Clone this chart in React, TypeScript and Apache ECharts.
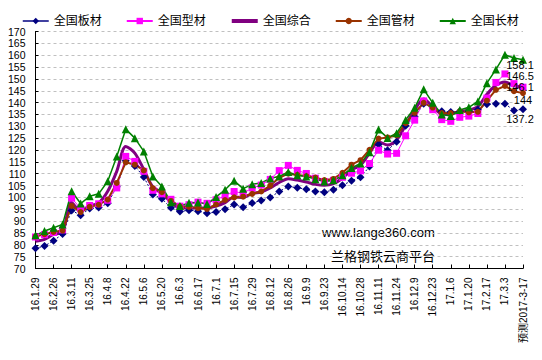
import React, { useEffect, useRef } from "react";
import * as echarts from "echarts";

const categories = [
  "16.1.29", "16.2.19", "16.2.26", "16.3.4", "16.3.11", "16.3.18", "16.3.25", "16.4.1", "16.4.8", "16.4.15",
  "16.4.22", "16.4.29", "16.5.6", "16.5.13", "16.5.20", "16.5.27", "16.6.3", "16.6.10", "16.6.17", "16.6.24",
  "16.7.1", "16.7.8", "16.7.15", "16.7.22", "16.7.29", "16.8.5", "16.8.12", "16.8.19", "16.8.26", "16.9.2",
  "16.9.9", "16.9.14", "16.9.23", "16.9.30", "16.10.14", "16.10.21", "16.10.28", "16.11.4", "16.11.11", "16.11.18",
  "16.11.24", "16.12.2", "16.12.9", "16.12.16", "16.12.23", "16.12.30", "17.1.6", "17.1.13", "17.1.20", "17.2.10",
  "17.2.17", "17.2.24", "17.3.3", "17.3.10", "预测2017-3-17",
];

// 全国板材
const plate = [
  78.5, 79.5, 81.7, 84.6, 94.5, 92.5, 95.3, 95.7, 97.5, 104.5,
  115.5, 113.3, 108.6, 101.2, 99.4, 95.6, 94, 94.6, 94.2, 93.3,
  93.8, 95, 97, 95.8, 97.6, 98.7, 100, 102.5, 104.6, 104.1,
  103.4, 102.5, 102.2, 103.2, 105.1, 107, 108.5, 113, 122.3, 119.9,
  123.5, 130.2, 134, 139.5, 137.8, 136.3, 136, 136.4, 136.2, 137,
  139.3, 139.5, 139.5, 136.7, 137.2,
];
// 全国型材
const section = [
  83.3, 84.3, 85.2, 86.3, 99.7, 95.3, 96.6, 97.3, 98.8, 104,
  117.3, 115.2, 111, 103, 101.5, 99.2, 96.3, 96.9, 98, 97.5,
  99, 100.7, 102.5, 101.7, 104, 105.2, 107.6, 111.3, 113.5, 111.4,
  110.1, 108.1, 106.7, 107.2, 108.5, 110.2, 111.2, 114.3, 119.9, 118.3,
  118.6, 126, 132.6, 140.7, 137, 132.8, 132.1, 133.8, 134.3, 135.4,
  141.9, 148.5, 152.1, 148, 146.5,
];
// 全国综合
const composite = [
  81.5, 82.3, 84.4, 85.5, 97.8, 94.2, 96.3, 97.7, 102.6, 111,
  121.5, 118.7, 111.7, 104.4, 102, 98, 95.6, 95.5, 95.5, 95.5,
  96.3, 97.8, 100.2, 100, 101.7, 102.3, 104, 106.3, 107.9, 107.3,
  106.5, 105.5, 105.1, 105.8, 108.1, 111.6, 113.5, 118.7, 123.5, 122.1,
  124.2, 130.5, 136.9, 141.5, 138.3, 135.2, 135.2, 136.2, 136.9, 138.3,
  143.5, 147.3, 148.7, 147.2, 146.1,
];
// 全国管材
const pipe = [
  83.5, 84.5, 85.4, 86, 96.4, 93.8, 96, 96.9, 99.1, 106.1,
  114.8, 113.8, 111.4, 103.9, 102.2, 98.5, 96.2, 96, 95.5, 95.1,
  97, 98.9, 100, 100.3, 101.5, 102.5, 105, 108.3, 110, 109.5,
  109, 108.4, 107.3, 107.8, 110.4, 113.8, 115.7, 120.1, 124.8, 125.3,
  126.2, 131.3, 135.7, 139.9, 137.9, 135.6, 135.6, 136.3, 135.9, 136.1,
  140.8, 145.4, 147, 144.8, 144,
];
// 全国长材
const longs = [
  84, 85.8, 87.2, 88.6, 102.6, 97.4, 100.5, 101.5, 106.8, 117.3,
  128.8, 125, 119.4, 108.8, 104.6, 98, 96.4, 97.7, 97.9, 97.2,
  100.2, 103.2, 107, 103.7, 105.5, 106.1, 108, 108.9, 110.7, 109.3,
  108.8, 107.7, 106.7, 107.2, 109.3, 112.4, 114.3, 119.1, 128.6, 125.1,
  127.1, 132.7, 137.8, 145.6, 139.9, 135, 134.3, 136.9, 138, 140.5,
  148.2, 154, 160.2, 158.8, 158.1,
];

const seriesNames = ["全国板材", "全国型材", "全国综合", "全国管材", "全国长材"];
const yMin = 70;
const yMax = 170;
const yInterval = 5;

const FONT = '"Liberation Sans", Arial, "Noto Sans CJK SC", sans-serif';

function withLastLabel(arr: number[], offset: number[], extra: any = {}) {
  return arr.map((v, i) =>
    i === arr.length - 1
      ? {
          value: v,
          ...extra,
          label: {
            show: true,
            position: "inside",
            offset,
            formatter: String(v),
            color: "#000",
            fontSize: 11,
            fontFamily: FONT,
          },
        }
      : v
  );
}

export default function App() {
  const ref = useRef<HTMLDivElement>(null);
  useEffect(() => {
    const chart = echarts.init(ref.current!, null, { renderer: "svg" });
    chart.setOption({
      animation: false,
      backgroundColor: "#fff",
      textStyle: { fontFamily: FONT },
      legend: {
        top: 10,
        left: 17,
        itemGap: 24,
        itemWidth: 26,
        itemHeight: 8,
        textStyle: { fontSize: 12, color: "#000", fontFamily: FONT },
        data: [
          { name: seriesNames[0], lineStyle: { type: "solid", width: 1.5 } },
          { name: seriesNames[1] },
          { name: seriesNames[2], itemStyle: { opacity: 0 }, lineStyle: { width: 4 } },
          { name: seriesNames[3] },
          { name: seriesNames[4] },
        ],
      },
      grid: { left: 35.5, right: 19, top: 31.5, bottom: 91.5, containLabel: false },
      xAxis: {
        type: "category",
        data: categories,
        boundaryGap: false,
        axisLine: { lineStyle: { color: "#000", width: 1 } },
        axisTick: { show: true, inside: true, length: 4, interval: 1, lineStyle: { color: "#000" } },
        axisLabel: {
          interval: 1,
          rotate: 90,
          margin: 9,
          fontSize: 10,
          color: "#000",
          fontFamily: FONT,
        },
        splitLine: { show: false },
      },
      yAxis: {
        type: "value",
        min: yMin,
        max: yMax,
        interval: yInterval,
        axisLine: { show: true, lineStyle: { color: "#000", width: 1 } },
        axisTick: { show: true, inside: true, length: 3, lineStyle: { color: "#000" } },
        axisLabel: { margin: 10, fontSize: 10.5, color: "#000", fontFamily: FONT },
        splitLine: { show: true, lineStyle: { color: "#c0c0c0", type: [3, 3], width: 1 } },
      },
      graphic: [
        {
          type: "text",
          left: 322,
          top: 226,
          style: { text: "www.lange360.com", fontSize: 13, fill: "#000", fontFamily: FONT },
        },
        {
          type: "text",
          left: 331,
          top: 249,
          style: { text: "兰格钢铁云商平台", fontSize: 13, fill: "#000", fontFamily: '"Noto Sans CJK SC", sans-serif' },
        },
      ],
      series: [
        {
          name: seriesNames[0],
          type: "line",
          data: withLastLabel(plate, [-3, 10]),
          symbol: "diamond",
          symbolSize: 8,
          showAllSymbol: true,
          itemStyle: { color: "#000080" },
          lineStyle: { color: "#000080", width: 1, type: [2, 2] },
        },
        {
          name: seriesNames[1],
          type: "line",
          data: withLastLabel(section, [-3, -11]),
          symbol: "rect",
          symbolSize: 7,
          showAllSymbol: true,
          itemStyle: { color: "#ff00ff" },
          lineStyle: { color: "#ff00ff", width: 1 },
        },
        {
          name: seriesNames[2],
          type: "line",
          data: withLastLabel(composite, [-3, -1], {
            symbol: "circle",
            symbolSize: 1,
            itemStyle: { color: "rgba(0,0,0,0)" },
          }),
          symbol: "none",
          showAllSymbol: true,
          smooth: 0.3,
          itemStyle: { color: "#800080" },
          lineStyle: { color: "#800080", width: 3 },
        },
        {
          name: seriesNames[3],
          type: "line",
          data: withLastLabel(pipe, [0, 7]),
          symbol: "circle",
          symbolSize: 6,
          showAllSymbol: true,
          itemStyle: { color: "#993300" },
          lineStyle: { color: "#993300", width: 2 },
        },
        {
          name: seriesNames[4],
          type: "line",
          data: withLastLabel(longs, [-3, 5]),
          symbol: "triangle",
          symbolSize: 8,
          showAllSymbol: true,
          itemStyle: { color: "#008000" },
          lineStyle: { color: "#008000", width: 1.5 },
        },
      ],
    });
    return () => chart.dispose();
  }, []);
  return (
    <div
      ref={ref}
      style={{ position: "fixed", left: 0, top: 0, width: 542, height: 360, background: "#fff" }}
    />
  );
}
